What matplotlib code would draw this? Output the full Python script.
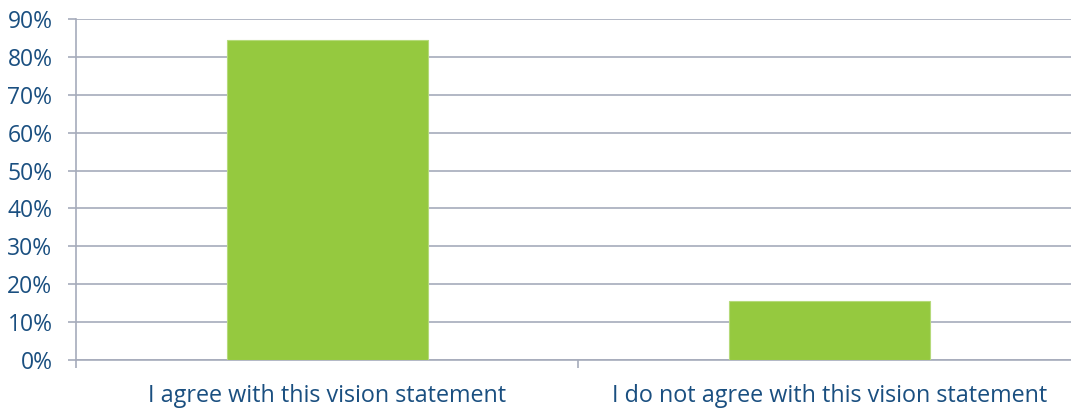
import numpy as np
import matplotlib.pyplot as plt
from matplotlib.ticker import FuncFormatter

categories = ["I agree with this vision statement",
              "I do not agree with this vision statement"]
shares = [84.4, 15.6]
yticks = [0, 10, 20, 30, 40, 50, 60, 70, 80, 90]

plt.rcParams['font.family'] = ['Open Sans', 'DejaVu Sans']
text_col = '#1A4F80'
grid_col = '#A6ABBB'

fig = plt.figure(figsize=(10.71, 4.08), dpi=100)
# right edge of the plot area lies past the picture, as in the original
ax = fig.add_axes([0.071, 0.1176, 0.938, 0.8358])

x = np.arange(len(categories))
ax.bar(x, shares, width=0.4, color='#95C93F', edgecolor='#B5DA7A',
       linewidth=0.8, zorder=3)

ax.set_xlim(-0.5, 1.5)
ax.set_ylim(0, 90)
ax.set_yticks(yticks)
ax.yaxis.set_major_formatter(FuncFormatter(lambda v, p: f"{v:.0f}%"))
ax.grid(axis='y', color=grid_col, linewidth=1.2, zorder=0)

# category labels in the middle, ticks on the category borders
ax.set_xticks([-0.5, 0.5, 1.5])
ax.set_xticklabels([])
ax.set_xticks(x, minor=True)
ax.set_xticklabels(categories, minor=True)
ax.tick_params(axis='x', which='minor', length=0, pad=17,
               labelsize=16.8, labelcolor=text_col)
ax.tick_params(axis='x', which='major', length=6, color=grid_col, width=1.2)
ax.tick_params(axis='y', length=6, color=grid_col, width=1.2, pad=11,
               labelsize=16.5, labelcolor=text_col)

for s in ['top', 'right']:
    ax.spines[s].set_visible(False)
for s in ['left', 'bottom']:
    ax.spines[s].set_color(grid_col)
    ax.spines[s].set_linewidth(1.2)

fig.savefig('out.png', dpi=100)
